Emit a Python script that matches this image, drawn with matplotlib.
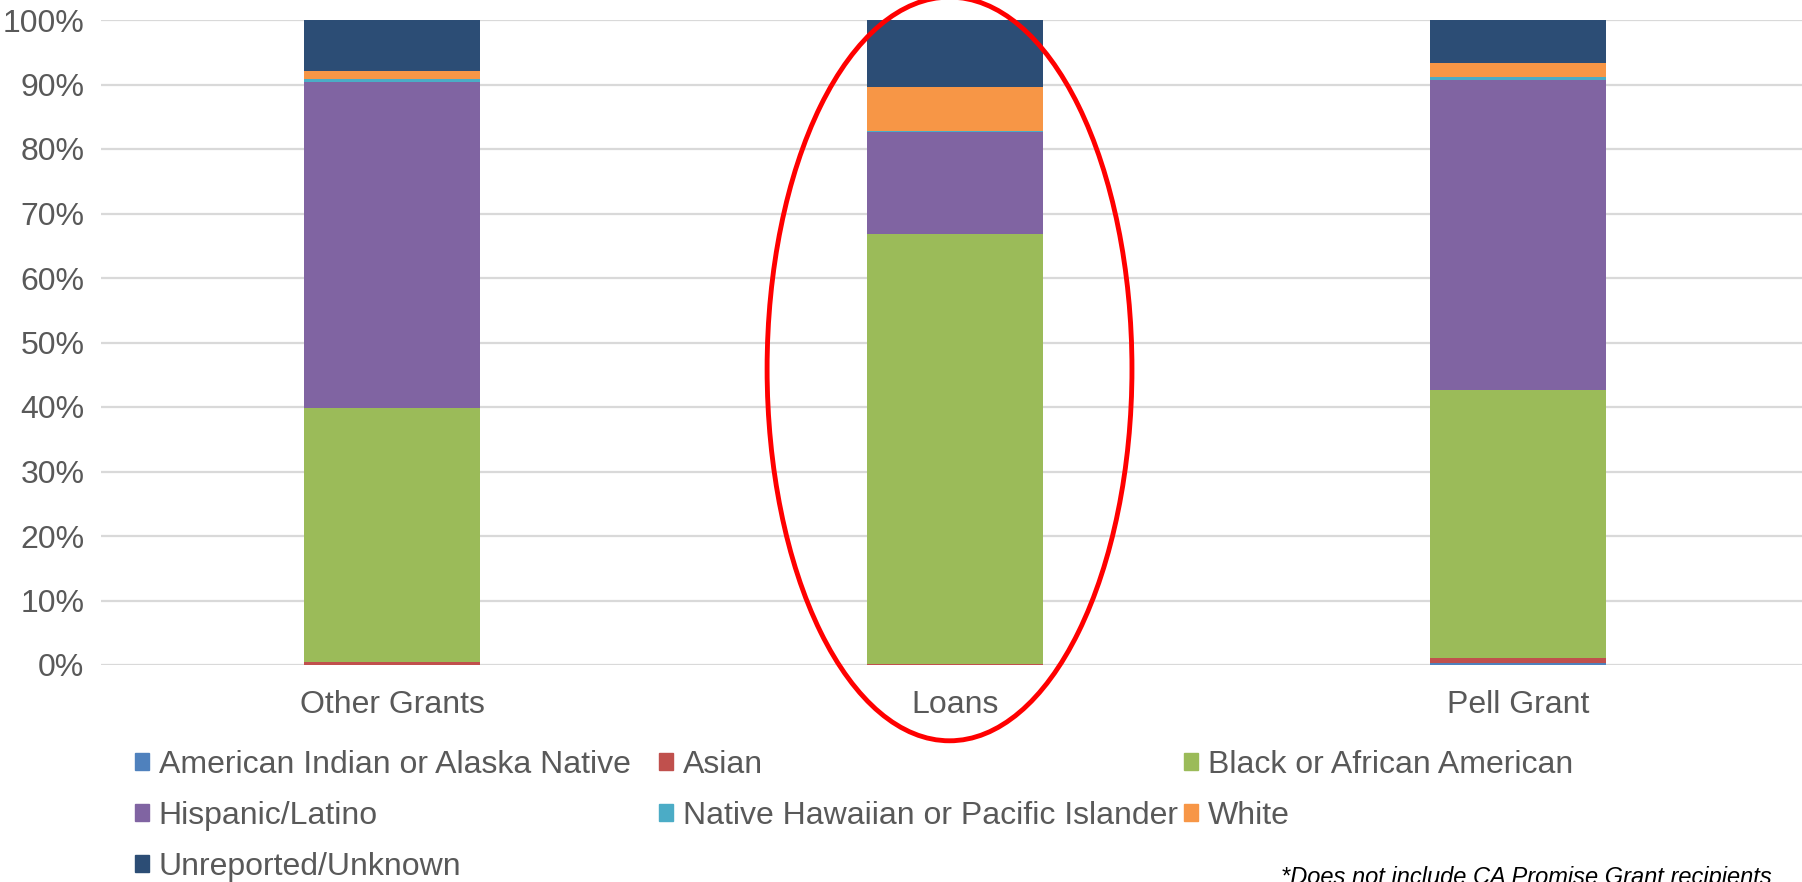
import numpy as np
import matplotlib
matplotlib.use("Agg")
import matplotlib.pyplot as plt
from matplotlib.patches import Ellipse, Patch

plt.rcParams["font.family"] = ["Liberation Sans", "DejaVu Sans"]

categories = ["Other Grants", "Loans", "Pell Grant"]
groups = ["American Indian or Alaska Native", "Asian", "Black or African American",
          "Hispanic/Latino", "Native Hawaiian or Pacific Islander", "White",
          "Unreported/Unknown"]
colors = ["#4F81BD", "#C0504D", "#9BBB59", "#8064A2", "#4BACC6", "#F79646", "#2C4D75"]

# percent of recipients, per category
aian = [0.05, 0.0, 0.25]
asian = [0.4, 0.1, 0.8]
black = [39.35, 66.7, 41.65]
hispanic = [50.6, 15.9, 48.05]
nhpi = [0.45, 0.05, 0.45]
white = [1.25, 6.8, 2.2]
unknown = [7.9, 10.45, 6.6]
series = [aian, asian, black, hispanic, nhpi, white, unknown]

TXT = "#595959"

fig = plt.figure(figsize=(18.02, 8.82), dpi=100)
ax = fig.add_axes([101 / 1802, 1 - 665 / 882, 1701 / 1802, 645 / 882])

x = np.arange(len(categories))
bottom = np.zeros(len(categories))
for vals, col, name in zip(series, colors, groups):
    ax.bar(x, vals, width=0.313, bottom=bottom, color=col, label=name, zorder=3)
    bottom += np.array(vals)

ax.set_xlim(-0.517, 2.504)
ax.set_ylim(0, 100)
ax.set_yticks(np.arange(0, 101, 10))
ax.set_yticklabels([f"{v}%" for v in range(0, 101, 10)])
ax.set_xticks(x)
ax.set_xticklabels(categories)
ax.tick_params(axis="both", length=0, labelsize=23, colors=TXT)
ax.tick_params(axis="x", pad=18)
ax.tick_params(axis="y", pad=12)
ax.grid(axis="y", color="#D9D9D9", lw=1.6, zorder=0)
for s in ax.spines.values():
    s.set_visible(False)

# highlight loans
ax.add_patch(Ellipse((0.99, 45.9), 0.648, 115.3, fill=False, ec="#FF0000",
                     lw=3.5, clip_on=False, zorder=5))

# legend: three fixed-position columns, filled row by row
cols = [[0, 3, 6], [1, 4], [2, 5]]
col_x = [122, 646, 1171]
for idx, cx in zip(cols, col_x):
    leg = fig.legend([Patch(color=colors[i]) for i in idx], [groups[i] for i in idx],
                     loc="upper left", frameon=False,
                     bbox_to_anchor=(cx / 1802, 1 - 737 / 882), borderaxespad=0,
                     fontsize=23, labelcolor=TXT, handlelength=0.45, handleheight=0.45,
                     handletextpad=0.3, labelspacing=0.66)

fig.text(1772 / 1802, 1 - 866 / 882, "*Does not include CA Promise Grant recipients",
         ha="right", va="top", fontsize=17, style="italic", color="#000000")

fig.savefig("out.png", dpi=100)
